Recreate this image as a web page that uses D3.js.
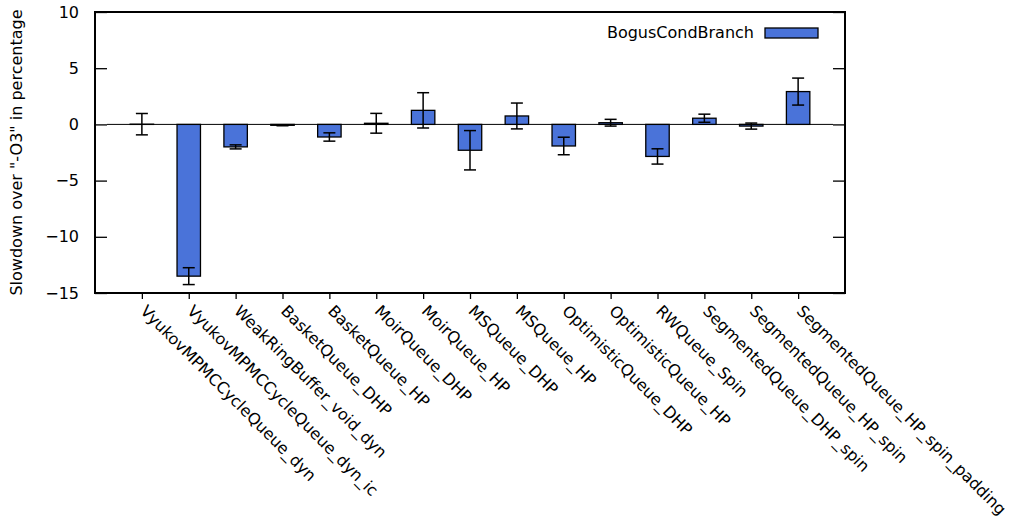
<!DOCTYPE html>
<html>
<head>
<meta charset="utf-8">
<script src="https://d3js.org/d3.v7.min.js"></script>
<style>
  body { margin: 0; background: #fff; }
  text { font-family: "DejaVu Sans", sans-serif; font-size: 16px; fill: #000; }
</style>
</head>
<body>
<svg id="chart" width="1009" height="523"></svg>
<script>
  // data
  var categories = ['VyukovMPMCCycleQueue_dyn', 'VyukovMPMCCycleQueue_dyn_ic', 'WeakRingBuffer_void_dyn',
    'BasketQueue_DHP', 'BasketQueue_HP', 'MoirQueue_DHP', 'MoirQueue_HP', 'MSQueue_DHP', 'MSQueue_HP',
    'OptimisticQueue_DHP', 'OptimisticQueue_HP', 'RWQueue_Spin', 'SegmentedQueue_DHP_spin',
    'SegmentedQueue_HP_spin', 'SegmentedQueue_HP_spin_padding']
  var values = [0.02, -13.5, -2.0, -0.08, -1.12, 0.1, 1.25, -2.3, 0.75, -1.92, 0.15, -2.85, 0.55, -0.15, 2.92]
  var errors = [0.95, 0.75, 0.18, 0.04, 0.37, 0.88, 1.57, 1.75, 1.15, 0.78, 0.3, 0.68, 0.36, 0.27, 1.2]
  var yTicks = [10, 5, 0, -5, -10, -15]
  var seriesName = 'BogusCondBranch'
  var barColor = '#4a73d9'

  var svg = d3.select('#chart')
  var pLeft = 95, pRight = 845, pTop = 12, pBottom = 293

  var x = d3.scaleLinear().domain([-1, 15]).range([pLeft, pRight])
  var y = d3.scaleLinear().domain([-15, 10]).range([pBottom, pTop])
  var bw = x(0.25) - x(-0.25)

  // zero axis
  svg.append('line')
      .attr('x1', pLeft + 12).attr('x2', pRight - 12)
      .attr('y1', y(0)).attr('y2', y(0))
      .attr('stroke', '#000').attr('stroke-width', 1)

  // bars
  svg.selectAll('rect.bar').data(values).enter().append('rect')
      .attr('class', 'bar')
      .attr('x', function (d, i) { return x(i) - bw / 2 })
      .attr('y', function (d) { return y(Math.max(d, 0)) })
      .attr('width', bw)
      .attr('height', function (d) { return Math.abs(y(d) - y(0)) })
      .attr('fill', barColor).attr('stroke', '#000').attr('stroke-width', 1.3)

  // error bars
  var eb = svg.append('g').attr('stroke', '#000').attr('stroke-width', 1.5)
  values.forEach(function (d, i) {
    var e = errors[i]
    eb.append('line').attr('x1', x(i)).attr('x2', x(i)).attr('y1', y(d + e)).attr('y2', y(d - e))
    eb.append('line').attr('x1', x(i) - 6).attr('x2', x(i) + 6).attr('y1', y(d + e)).attr('y2', y(d + e))
    eb.append('line').attr('x1', x(i) - 6).attr('x2', x(i) + 6).attr('y1', y(d - e)).attr('y2', y(d - e))
  })

  // y axis left (inward ticks) and mirrored right
  var yAxis = d3.axisLeft(y).tickValues(yTicks).tickSizeInner(-12).tickSizeOuter(0).tickPadding(16)
  var gy = svg.append('g').attr('transform', 'translate(' + pLeft + ',0)').call(yAxis)
  gy.select('.domain').remove()
  gy.selectAll('line').attr('stroke-width', 1.3)
  gy.selectAll('text').style('font-size', '16px').attr('font-family', null)
  var gyr = svg.append('g').attr('transform', 'translate(' + pRight + ',0)')
      .call(d3.axisRight(y).tickValues(yTicks).tickSizeInner(-12).tickSizeOuter(0).tickFormat(''))
  gyr.select('.domain').remove()
  gyr.selectAll('line').attr('stroke-width', 1.3)

  // x axis with rotated labels
  var xAxis = d3.axisBottom(x).tickValues(d3.range(categories.length)).tickSizeInner(6).tickSizeOuter(0)
      .tickFormat(function (d) { return categories[d] })
  var gx = svg.append('g').attr('transform', 'translate(0,' + pBottom + ')').call(xAxis)
  gx.select('.domain').remove()
  gx.selectAll('line').attr('stroke-width', 1.3)
  gx.selectAll('text')
      .attr('y', 0).attr('x', 0).attr('dy', '0.35em')
      .attr('transform', 'translate(1,15) rotate(45)')
      .style('text-anchor', 'start').style('font-size', '16px').attr('font-family', null)

  // frame
  svg.append('rect')
      .attr('x', pLeft).attr('y', pTop).attr('width', pRight - pLeft).attr('height', pBottom - pTop)
      .attr('fill', 'none').attr('stroke', '#000').attr('stroke-width', 2)

  // y label
  svg.append('text')
      .attr('transform', 'translate(22,' + ((pTop + pBottom) / 2) + ') rotate(-90)')
      .attr('text-anchor', 'middle')
      .text('Slowdown over "-O3" in percentage')

  // legend
  svg.append('text').attr('x', 754).attr('y', 38).attr('text-anchor', 'end').text(seriesName)
  svg.append('rect').attr('x', 765).attr('y', 28).attr('width', 53).attr('height', 10)
      .attr('fill', barColor).attr('stroke', '#000').attr('stroke-width', 1.3)
</script>
</body>
</html>
